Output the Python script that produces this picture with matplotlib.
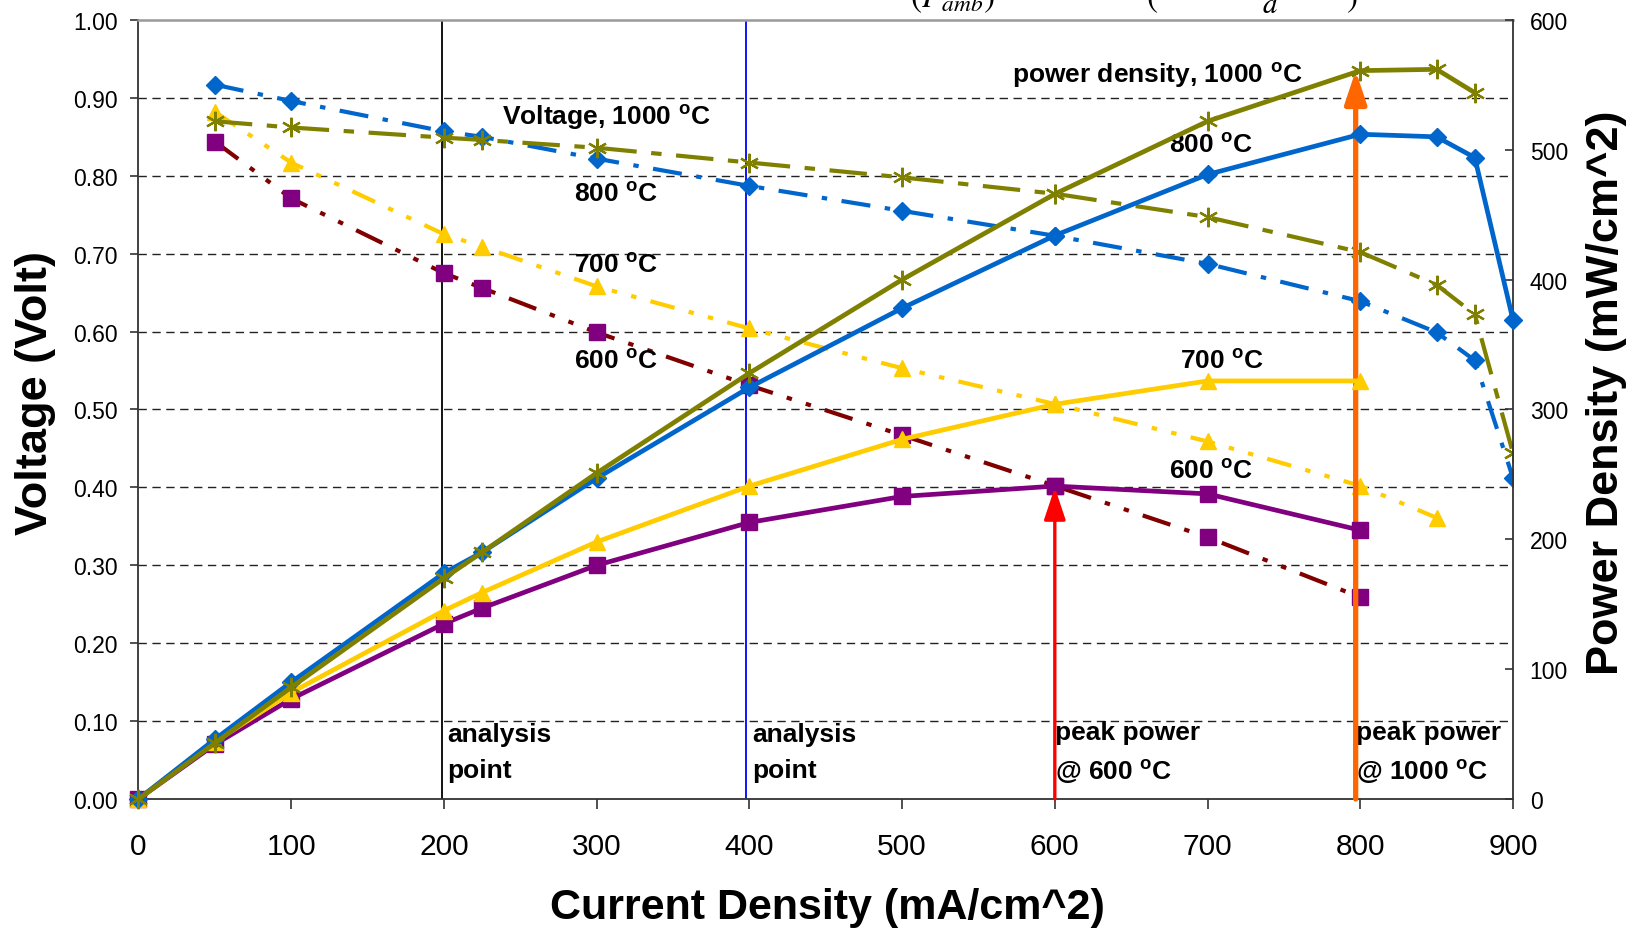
import numpy as np
import matplotlib
matplotlib.use("Agg")
import matplotlib.pyplot as plt

plt.rcParams['font.family'] = ['Liberation Sans', 'DejaVu Sans']
plt.rcParams['mathtext.fontset'] = 'custom'
plt.rcParams['mathtext.rm'] = 'Liberation Sans'
plt.rcParams['mathtext.bf'] = 'Liberation Sans:bold'
plt.rcParams['mathtext.it'] = 'Liberation Sans:italic'

# ---------------- data ----------------
x_ticks = [0, 100, 200, 300, 400, 500, 600, 700, 800, 900]

# Voltage (left axis)
v1000_x = [50, 100, 200, 225, 300, 400, 500, 600, 700, 800, 850, 875, 900]
v1000 = [0.870, 0.862, 0.849, 0.846, 0.836, 0.817, 0.798, 0.777, 0.747, 0.702, 0.660, 0.622, 0.444]
v800_x = [50, 100, 200, 225, 300, 400, 500, 600, 700, 800, 850, 875, 900]
v800 = [0.917, 0.896, 0.857, 0.850, 0.822, 0.787, 0.755, 0.723, 0.687, 0.639, 0.599, 0.563, 0.412]
v700_x = [50, 100, 200, 225, 300, 400, 500, 600, 700, 800, 850]
v700 = [0.882, 0.817, 0.725, 0.709, 0.658, 0.604, 0.553, 0.507, 0.459, 0.402, 0.361]
v600_x = [50, 100, 200, 225, 300, 400, 500, 600, 700, 800]
v600 = [0.844, 0.771, 0.675, 0.656, 0.599, 0.531, 0.467, 0.402, 0.336, 0.259]

# Power density (right axis)
p1000_x = [0, 50, 100, 200, 225, 300, 400, 500, 600, 700, 800, 850, 875]
p1000 = [0, 43, 86, 170, 190, 251, 328, 400, 466, 522, 561, 562, 544]
p800_x = [0, 50, 100, 200, 225, 300, 400, 500, 600, 700, 800, 850, 875, 900]
p800 = [0, 46, 90, 174, 190, 247, 317, 378, 434, 481, 512, 510, 494, 369]
p700_x = [0, 50, 100, 200, 225, 300, 400, 500, 600, 700, 800]
p700 = [0, 44, 82, 145, 159, 198, 241, 277, 304, 322, 322]
p600_x = [0, 50, 100, 200, 225, 300, 400, 500, 600, 700, 800]
p600 = [0, 42, 77, 135, 147, 180, 213, 233, 241, 235, 207]

analysis_points = [198.5, 398]
peak600 = (600, 240)
peak1000 = (797, 561)

# ---------------- colours ----------------
C_BLUE = '#0066CC'
C_OLIVE = '#808000'
C_YELLOW = '#FFCC00'
C_PURPLE = '#800080'
C_DRED = '#800000'

fig = plt.figure(figsize=(16.33, 9.29), dpi=100)
ax = fig.add_axes([0.0848, 0.1389, 0.8417, 0.8385])
ax.set_xlim(0, 900)
ax.set_ylim(0, 1.0)
ax2 = ax.twinx()
ax2.set_ylim(0, 600)

# grid
ax.set_yticks(np.round(np.arange(0, 1.01, 0.1), 2))
ax.set_yticklabels([f"{v:.2f}" for v in np.arange(0, 1.01, 0.1)])
ax.set_xticks(x_ticks)
ax.yaxis.grid(True, color='#222222', lw=1.0, linestyle=(0, (6, 4)))
gls = ax.get_ygridlines()
gls[0].set_visible(False)
gls[-1].set_visible(False)
ax.set_axisbelow(True)

# analysis lines
ax.axvline(analysis_points[0], color='black', lw=1.3, zorder=1)
ax.axvline(analysis_points[1], color='#0000FF', lw=1.3, zorder=1)

lwv = 3.0
ax.plot(v600_x, v600, color=C_DRED, lw=lwv, linestyle=(0, (7, 3.5, 1.3, 3.5, 1.3, 3.5)),
        marker='s', ms=11, mfc=C_PURPLE, mec=C_PURPLE, zorder=3)
ax.plot(v700_x, v700, color=C_YELLOW, lw=lwv, linestyle=(0, (6, 3.5, 1.3, 3.5, 1.3, 3.5)),
        marker='^', ms=12, mfc=C_YELLOW, mec=C_YELLOW, zorder=3)
ax.plot(v800_x, v800, color=C_BLUE, lw=lwv, linestyle=(0, (7, 3.5, 1.3, 3.5)),
        marker='D', ms=9, mfc=C_BLUE, mec=C_BLUE, zorder=3)
ax.plot(v1000_x, v1000, color=C_OLIVE, lw=lwv, linestyle=(0, (9, 3.5, 2.5, 3.5)),
        marker=(6, 2, 0), ms=14, mew=1.6, mfc=C_OLIVE, mec=C_OLIVE, zorder=3)

lwp = 3.4
ax2.plot(p600_x, p600, color=C_PURPLE, lw=lwp, marker='s', ms=11,
         mfc=C_PURPLE, mec=C_PURPLE, clip_on=False, zorder=3)
ax2.plot(p700_x, p700, color=C_YELLOW, lw=lwp, marker='^', ms=12,
         mfc=C_YELLOW, mec=C_YELLOW, clip_on=False, zorder=3)
ax2.plot(p800_x, p800, color=C_BLUE, lw=lwp, marker='D', ms=9,
         mfc=C_BLUE, mec=C_BLUE, clip_on=False, zorder=3)
ax2.plot(p1000_x, p1000, color=C_OLIVE, lw=lwp, marker=(6, 2, 0), ms=14, mew=1.6,
         mfc=C_OLIVE, mec=C_OLIVE, clip_on=False, zorder=3)

# peak arrows
ax2.annotate('', xy=peak600, xytext=(peak600[0], 0),
             arrowprops=dict(arrowstyle='-|>,head_length=0.9,head_width=0.3', color='#FF0000', lw=2.4,
                             mutation_scale=22, shrinkA=0, shrinkB=0), zorder=4)
ax2.annotate('', xy=peak1000, xytext=(peak1000[0], 0),
             arrowprops=dict(arrowstyle='-|>,head_length=0.9,head_width=0.3', color='#FF6600', lw=3.8,
                             mutation_scale=22, shrinkA=0, shrinkB=0), zorder=2)

# annotations
deg = r'$^{\mathbf{o}}$'
tk = dict(fontsize=19, fontweight='bold', va='center', ha='left', color='black', zorder=6)
ax.text(238, 0.876, 'Voltage, 1000 ' + deg + 'C', **tk)
ax.text(285, 0.777, '800 ' + deg + 'C', **tk)
ax.text(285, 0.686, '700 ' + deg + 'C', **tk)
ax.text(285, 0.563, '600 ' + deg + 'C', **tk)
ax.text(572, 0.930, 'power density, 1000 ' + deg + 'C', **tk)
ax.text(675, 0.840, '800 ' + deg + 'C', **tk)
ax.text(682, 0.563, '700 ' + deg + 'C', **tk)
ax.text(675, 0.421, '600 ' + deg + 'C', **tk)
ax.text(202, 0.083, 'analysis', **tk)
ax.text(202, 0.037, 'point', **tk)
ax.text(402, 0.083, 'analysis', **tk)
ax.text(402, 0.037, 'point', **tk)
ax.text(600, 0.086, 'peak power', **tk)
ax.text(600, 0.036, '@ 600 ' + deg + 'C', **tk)
ax.text(797, 0.086, 'peak power', **tk)
ax.text(797, 0.036, '@ 1000 ' + deg + 'C', **tk)

# ticks & spines
ax.tick_params(axis='y', direction='out', length=6, width=1.2, labelsize=16.5,
               pad=9, colors='#333333', labelcolor='black')
ax.tick_params(axis='x', direction='out', length=7, width=1.2, labelsize=21.5,
               pad=17, colors='#333333', labelcolor='black')
ax2.tick_params(axis='y', direction='in', length=6, width=1.2, labelsize=16.5,
                pad=12, colors='#333333', labelcolor='black')
ax2.set_yticks([0, 100, 200, 300, 400, 500, 600])
ax.spines['top'].set_color('#999999')
ax.spines['top'].set_linewidth(1.8)
for s in ['left', 'bottom']:
    ax.spines[s].set_color('#333333')
    ax.spines[s].set_linewidth(1.3)
ax.spines['right'].set_visible(False)
for s in ['left', 'top', 'bottom']:
    ax2.spines[s].set_visible(False)
ax2.spines['right'].set_color('#333333')
ax2.spines['right'].set_linewidth(1.3)

# axis labels
fig.text(36 / 1633, 1 - 393 / 929, 'Voltage (Volt)', rotation=90, fontsize=32.5,
         fontweight='bold', ha='center', va='center')
fig.text(827 / 1633, 1 - 908 / 929, 'Current Density (mA/cm^2)', fontsize=31,
         fontweight='bold', ha='center', va='center')
fig.text(1607 / 1633, 1 - 393 / 929, 'Power Density (mW/cm^2)', rotation=90, fontsize=32.5,
         fontweight='bold', ha='center', va='center')

# cut-off formula fragment at the very top (only its lower part is visible, as in the source)
top_y = 1 - 7 / 929
fig.text(910 / 1633, top_y, r'$\left(P_{amb}\right)$', math_fontfamily='stix',
         fontsize=24, va='baseline', ha='left')
fig.text(1146 / 1633, top_y, r'$($', math_fontfamily='stix', fontsize=24, va='baseline', ha='left')
fig.text(1262 / 1633, top_y, r'$_{d}$', math_fontfamily='stix', fontsize=30, va='baseline', ha='left')
fig.text(1346 / 1633, top_y, r'$)$', math_fontfamily='stix', fontsize=24, va='baseline', ha='left')

fig.savefig('out.png', dpi=100)
